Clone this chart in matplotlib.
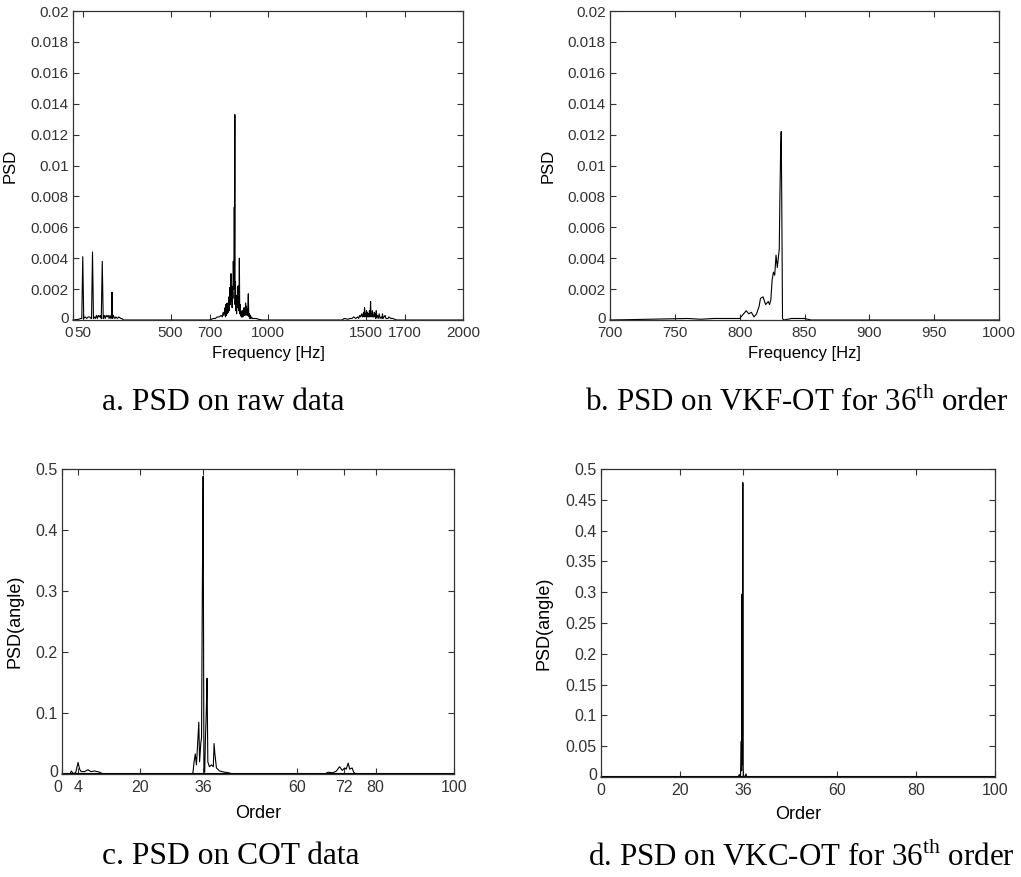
#PSD comparison plot (4 panels)
import matplotlib
matplotlib.use('Agg')
import matplotlib.pyplot as plt
import matplotlib.transforms as transforms
from matplotlib.ticker import FuncFormatter

#panel a - raw data spectrum
raw_freq = [0, 30, 40, 45, 50, 55, 62, 70, 78, 85, 92, 95, 100, 105, 110, 115, 120, 125, 130, 135, 140, 145,
            150, 155, 160, 165, 170, 175, 180, 185, 190, 195, 198, 200, 201, 203, 207, 210, 215, 220, 228,
            235, 245, 250, 260, 300, 700,
            720, 730, 740, 750, 760, 766, 770, 774, 778, 780, 782, 784, 786, 788, 790, 792, 794, 796, 798,
            800, 802, 804, 806, 808, 810, 812, 814, 816, 818, 820, 822, 824, 826, 827, 828, 830, 831, 833,
            835, 837, 839, 841, 843, 845, 847, 849, 851, 853, 855, 857, 859, 861, 863, 865, 867, 869, 871,
            873, 875, 877, 879, 881, 883, 885, 887, 889, 891, 893, 895, 897, 899, 901, 903, 905, 907, 909,
            912, 915, 920, 930, 940, 950, 970, 1380,
            1390, 1410, 1420, 1430, 1440, 1450, 1460, 1465, 1470, 1475, 1480, 1485, 1490, 1493, 1495, 1498,
            1500, 1503, 1505, 1508, 1510, 1513, 1515, 1518, 1520, 1523, 1526, 1528, 1530, 1533, 1535, 1538,
            1540, 1543, 1545, 1548, 1550, 1553, 1555, 1558, 1560, 1565, 1570, 1575, 1580, 1585, 1587, 1590,
            1595, 1600, 1605, 1610, 1615, 1620, 1630, 1640, 1650, 1660, 2000]
raw_psd = [0, 0.00005, 0.0001, 0.0001, 0.0041, 0.0001, 0.0002, 0.0001, 0.0002, 0.0002, 0.0001, 0.0001,
           0.0044, 0.0001, 0.0002, 0.0001, 0.0003, 0.0001, 0.0003, 0.0002, 0.0003, 0.0001,
           0.0038, 0.0001, 0.0003, 0.0001, 0.0003, 0.0002, 0.0003, 0.0001, 0.0003, 0.0001, 0.0002,
           0.0018, 0.0010, 0.0001, 0.0003, 0.0002, 0.0001, 0.0002, 0.0001,
           0.0002, 0.0001, 0.0001, 0, 0, 0,
           0.0001, 0.0001, 0.0002, 0.0002, 0.0003, 0.0002, 0.0005, 0.0003, 0.0006, 0.0008, 0.0002, 0.0010,
           0.0003, 0.0009, 0.0011, 0.0004, 0.0009, 0.0005, 0.0012,
           0.0015, 0.0006, 0.0021, 0.0010, 0.0019, 0.0030, 0.0012, 0.0022, 0.0008, 0.0020, 0.0014, 0.0038,
           0.0020, 0.0028, 0.0073, 0.0035, 0.0133, 0.0010, 0.0025,
           0.0006, 0.0012, 0.0004, 0.0016, 0.0008, 0.0022, 0.0012, 0.0022, 0.0006, 0.0040, 0.0004, 0.0010,
           0.0003, 0.0006, 0.0002, 0.0004, 0.0002, 0.0006, 0.0002,
           0.0005, 0.0003, 0.0008, 0.0003, 0.0006, 0.0004, 0.0011, 0.0003, 0.0009, 0.0004, 0.0007, 0.0003,
           0.0010, 0.0017, 0.0005, 0.0002, 0.0004, 0.0001, 0.0003,
           0.0001, 0.0002, 0.0001, 0.0001, 0.0001, 0.00005, 0, 0,
           0.0001, 0.00005, 0.0001, 0.0001, 0.0002, 0.0001, 0.0002, 0.0001, 0.0003, 0.0002, 0.0004, 0.0002,
           0.0005, 0.0002, 0.0008, 0.0003,
           0.0004, 0.0002, 0.0006, 0.0002, 0.0005, 0.0002, 0.0004, 0.0002, 0.0006, 0.0002, 0.0012, 0.0003,
           0.0004, 0.0002, 0.0006, 0.0002,
           0.0003, 0.0002, 0.0005, 0.0002, 0.0004, 0.0001, 0.0006, 0.0002, 0.0003, 0.0001, 0.0004, 0.0001,
           0.0002, 0.0001, 0.0004, 0.0001,
           0.0002, 0.0003, 0.0001, 0.0001, 0.0001, 0.0002, 0.0001, 0.0001, 0.00005, 0, 0]
raw_xticks = [0, 50, 500, 700, 1000, 1500, 1700, 2000]

#panel b - VKF-OT 36th order
vkf_freq = [700, 760, 770, 780, 790, 800, 803, 805, 807, 809, 811, 813, 815, 816, 818, 820, 822, 823, 824,
            825, 826, 827, 828, 829, 830, 830.5, 831, 831.5, 832, 832.5, 833, 834, 840, 850, 855, 1000]
vkf_psd = [0, 0.0001, 0.00005, 0.0001, 0.0001, 0.0001, 0.0004, 0.0006, 0.0004, 0.0005, 0.0002, 0.0004,
           0.0009, 0.0014, 0.0015, 0.0010, 0.0012, 0.0010, 0.0013,
           0.0026, 0.0031, 0.0029, 0.0042, 0.0034, 0.0042, 0.0046, 0.0080, 0.0107, 0.0122, 0.0068, 0.0001,
           0, 0.0001, 0.0001, 0, 0]
vkf_xticks = [700, 750, 800, 850, 900, 950, 1000]

#panel c - COT data
cot_order = [0, 2, 2.4, 2.8, 3.5, 4.1, 4.5, 4.9, 5.8, 6.6, 7.4, 8.3, 9.6, 10.5,
             33, 33.4, 33.7, 34, 34.3, 34.6, 34.9, 35.1, 35.4, 35.6, 35.8, 36, 36.2, 36.4, 36.6, 36.8, 37,
             37.2, 37.6, 38.1, 38.6, 38.8, 39, 39.4, 40.2, 41.5, 42.6, 43.5,
             67, 67.9, 69.1, 70, 70.8, 71.5, 72.1, 72.5, 73, 73.4, 74, 74.4, 75, 100]
cot_psd = [0, 0, 0.005, 0.001, 0.002, 0.019, 0.008, 0.004, 0.004, 0.007, 0.004, 0.005, 0.003, 0,
           0, 0.002, 0.02, 0.033, 0.015, 0.05, 0.085, 0.02, 0.05, 0.06, 0.30, 0.488, 0.01, 0.003, 0.06,
           0.10, 0.157, 0.02, 0.012, 0.015, 0.012, 0.05, 0.033, 0.01, 0.005, 0.003, 0.002, 0,
           0, 0.003, 0.002, 0.005, 0.012, 0.006, 0.01, 0.008, 0.018, 0.008, 0.01, 0.003, 0, 0]
cot_xticks = [0, 4, 20, 36, 60, 72, 80, 100]

#panel d - VKC-OT 36th order
vkc_order = [0, 34.8, 35.1, 35.4, 35.6, 35.7, 35.8, 35.9, 36.0, 36.1, 36.3, 36.6, 36.8, 37.0, 100]
vkc_psd = [0, 0, 0.004, 0, 0.058, 0.01, 0.297, 0.02, 0.478, 0, 0, 0.002, 0.005, 0, 0]
vkc_xticks = [0, 20, 36, 60, 80, 100]

plt.rcParams['font.family'] = ['Liberation Sans', 'DejaVu Sans']
plt.rcParams['mathtext.fontset'] = 'custom'
plt.rcParams['mathtext.rm'] = 'Liberation Serif'

fig = plt.figure(figsize=(10.21, 8.77), dpi=100)

def style_axes(ax, xticks, yticks, xlim, ylim, xlabel, ylabel, lbl_x, lbl_y, tsize, lsize):
    ax.set_xlim(xlim)
    ax.set_ylim(ylim)
    ax.set_xticks(xticks)
    ax.set_yticks(yticks)
    ax.yaxis.set_major_formatter(FuncFormatter(lambda v, p: '%g' % round(v, 4)))
    ax.tick_params(direction='in', top=True, right=True, length=4, width=0.8,
                   colors='#333333', labelsize=tsize)
    ax.tick_params(axis='x', pad=4)
    ax.tick_params(axis='y', pad=3)
    for s in ax.spines.values():
        s.set_color('#333333')
        s.set_linewidth(0.9)
    ax.set_xlabel(xlabel, fontsize=lsize, color='black')
    ax.set_ylabel(ylabel, fontsize=lsize, color='black')
    ax.xaxis.set_label_coords(0.5, lbl_x)
    ax.yaxis.set_label_coords(lbl_y, 0.5)
    # matlab style: "0" label nudged up off the corner
    fig.canvas.draw()
    ylab0 = ax.get_yticklabels()[0]
    ylab0.set_transform(ylab0.get_transform() + transforms.ScaledTranslation(0, 2 / 72, fig.dpi_scale_trans))

# a
ax1 = fig.add_axes([0.0715, 0.6351, 0.382, 0.3523])
ax1.plot(raw_freq, raw_psd, color='black', linewidth=0.8, clip_on=False)
style_axes(ax1, raw_xticks, [i * 0.002 for i in range(11)], (0, 2000), (0, 0.02),
           'Frequency [Hz]', 'PSD', -0.085, -0.141, 11, 12)
ax1.get_xticklabels()[0].set_horizontalalignment('right')

# b
ax2 = fig.add_axes([0.5975, 0.6351, 0.381, 0.3523])
ax2.plot(vkf_freq, vkf_psd, color='black', linewidth=0.8, clip_on=False)
style_axes(ax2, vkf_xticks, [i * 0.002 for i in range(11)], (700, 1000), (0, 0.02),
           'Frequency [Hz]', 'PSD', -0.085, -0.141, 11, 12)

# c
ax3 = fig.add_axes([0.0607, 0.1174, 0.384, 0.3478])
ax3.plot(cot_order, cot_psd, color='black', linewidth=0.8, clip_on=False)
ax3.axhline(0, color='black', linewidth=1.5)
style_axes(ax3, cot_xticks, [0, 0.1, 0.2, 0.3, 0.4, 0.5], (0, 100), (0, 0.5),
           'Order', 'PSD(angle)', -0.1, -0.097, 11.5, 13)
ax3.get_xticklabels()[0].set_horizontalalignment('right')

# d
ax4 = fig.add_axes([0.5886, 0.114, 0.386, 0.3512])
ax4.plot(vkc_order, vkc_psd, color='black', linewidth=0.8, clip_on=False)
ax4.axhline(0, color='black', linewidth=1.5)
style_axes(ax4, vkc_xticks, [i * 0.05 for i in range(11)], (0, 100), (0, 0.5),
           'Order', 'PSD(angle)', -0.095, -0.122, 11.5, 13)

# captions
cap = dict(fontsize=22.7, family='Liberation Serif', va='center', ha='left')
fig.text(102 / 1021, 1 - 402 / 877, 'a. PSD on raw data', **cap)
fig.text(102 / 1021, 1 - 857 / 877, 'c. PSD on COT data', **cap)
cap['fontsize'] = 22.3
fig.text(585 / 1021, 1 - 402 / 877, 'b. PSD on VKF-OT for 36$^{\\mathrm{th}}$ order', **cap)
fig.text(588 / 1021, 1 - 857 / 877, 'd. PSD on VKC-OT for 36$^{\\mathrm{th}}$ order', **cap)

plt.savefig('out.png', dpi=100)
